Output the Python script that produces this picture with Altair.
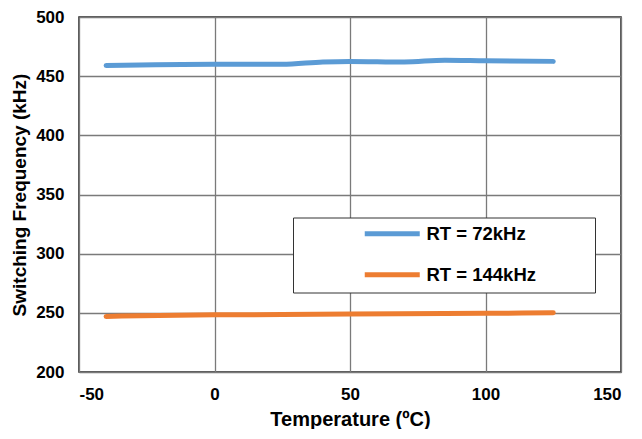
import altair as alt
import pandas as pd

temps_72 = [-40, 0, 25, 40, 50, 70, 85, 100, 125]
freq_72 = [459, 460, 460, 462, 462.5, 462, 463.5, 463, 462.5]
temps_144 = [-40, 0, 25, 50, 85, 100, 125]
freq_144 = [247, 248.3, 248.6, 249, 249.4, 249.6, 250]
series_names = ["RT = 72kHz", "RT = 144kHz"]
colors = ["#5B9BD5", "#ED7D31"]
x_ticks = [-50, 0, 50, 100, 150]
y_ticks = [200, 250, 300, 350, 400, 450, 500]

rows = []
for t, f in zip(temps_72, freq_72):
    rows.append({"T": t, "F": f, "Series": series_names[0], "order": 0})
for t, f in zip(temps_144, freq_144):
    rows.append({"T": t, "F": f, "Series": series_names[1], "order": 1})
df = pd.DataFrame(rows)

FONT = "Liberation Sans"
PAD = "\u00a0" * 10 + "\u200b"

chart = alt.Chart(df).mark_line(strokeWidth=5, strokeCap="round", strokeJoin="round", interpolate="monotone").encode(
    x=alt.X("T:Q", scale=alt.Scale(domain=[-50, 150], nice=False, zero=False),
            axis=alt.Axis(values=x_ticks, title="Temperature (ºC)", labelExpr="'' + datum.value",
                          labelPadding=14, titlePadding=7)),
    y=alt.Y("F:Q", scale=alt.Scale(domain=[200, 500], nice=False, zero=False),
            axis=alt.Axis(values=y_ticks, title="Switching Frequency (kHz)",
                          labelPadding=15, titlePadding=6, titleFontSize=19)),
    color=alt.Color("Series:N", scale=alt.Scale(domain=series_names, range=colors),
                    legend=alt.Legend(
                        orient="none", legendX=214, legendY=200.5, title=None,
                        strokeColor="#333333", padding=7, fillColor="white",
                        symbolType="M-5,0H5", symbolSize=121, symbolStrokeWidth=5,
                        symbolOffset=83, labelOffset=25, rowPadding=20,
                        labelFont=FONT, labelFontSize=18.5, labelFontWeight="bold", labelColor="black",
                        labelExpr="datum.label + '" + PAD + "'",
                        labelLimit=400)),
    detail="order:O",
).properties(
    width=542, height=355,
    autosize=alt.AutoSizeParams(type="none"),
    padding={"left": 71, "top": 9, "right": 13, "bottom": 57},
).configure_axis(
    grid=True, gridColor="#7a7a7a", gridWidth=1.3, domain=False, ticks=False,
    labelFont=FONT, labelFontSize=17, labelFontWeight="bold", labelColor="black",
    titleFont=FONT, titleFontSize=20, titleFontWeight="bold", titleColor="black",
).configure_view(
    stroke="#222222", strokeWidth=1.5,
)

chart.save("out.html", embed_options={"renderer": "svg", "actions": False})
